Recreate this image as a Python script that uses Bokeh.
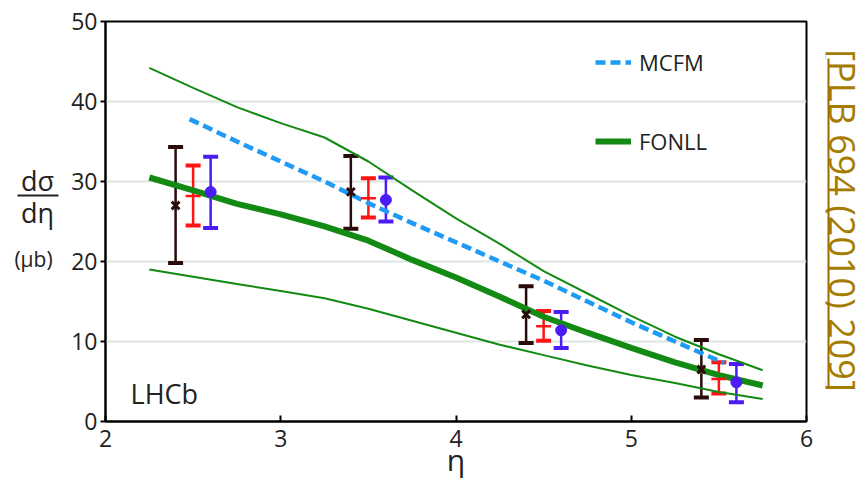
import numpy as np
from bokeh.plotting import figure
from bokeh.layouts import row
from bokeh.models import (ColumnDataSource, Whisker, TeeHead, Legend, LegendItem,
                          Label, FixedTicker, Range1d)
from bokeh.core.properties import value
from bokeh.embed import file_html
from bokeh.resources import INLINE

# ---- theory curves: d(sigma)/d(eta) in microbarn ----
eta_theory = [2.25, 2.5, 2.75, 3.0, 3.25, 3.5, 3.75, 4.0, 4.25, 4.5, 4.75, 5.0, 5.25, 5.5, 5.75]
fonll_central = [30.5, 28.9, 27.2, 25.9, 24.4, 22.6, 20.2, 18.0, 15.6, 13.1, 11.1, 9.2, 7.4, 5.8, 4.5]
fonll_upper = [44.2, 41.7, 39.3, 37.3, 35.5, 32.5, 28.9, 25.4, 22.2, 18.8, 16.0, 13.2, 10.6, 8.4, 6.4]
fonll_lower = [19.0, 18.1, 17.2, 16.3, 15.4, 14.1, 12.6, 11.1, 9.6, 8.3, 7.0, 5.8, 4.8, 3.7, 2.8]

eta_mcfm = [2.48, 2.75, 3.0, 3.25, 3.5, 3.75, 4.0, 4.25, 4.5, 4.75, 5.0, 5.25, 5.53]
mcfm = [37.8, 35.0, 32.5, 30.0, 27.3, 24.8, 22.4, 20.0, 17.6, 15.0, 12.4, 10.0, 7.3]

# ---- measurements in the four eta bins (three analyses, shifted in eta) ----
eta_bins = [2.5, 3.5, 4.5, 5.5]
shift = {"a": -0.1, "b": 0.0, "c": 0.1}

meas_a = [27.0, 28.7, 13.4, 6.5]
meas_a_hi = [34.3, 33.2, 16.9, 10.2]
meas_a_lo = [19.8, 24.1, 9.8, 3.0]

meas_b = [28.2, 27.9, 11.9, 5.3]
meas_b_hi = [32.0, 30.4, 13.8, 7.4]
meas_b_lo = [24.5, 25.5, 10.1, 3.5]

meas_c = [28.7, 27.7, 11.4, 4.9]
meas_c_hi = [33.1, 30.5, 13.7, 7.2]
meas_c_lo = [24.2, 25.0, 9.2, 2.4]

x_ticks = [2, 3, 4, 5, 6]
y_ticks = [0, 10, 20, 30, 40, 50]

FONT = "Open Sans"
INK = "#222222"
GREEN = "#138a13"
DASH_BLUE = "#1f9bf5"
C_A = "#2a0a0a"
C_B = "#ff1414"
C_C = "#4b1cf5"
CITE = "#a67c00"

H = 481
TOP, BOTTOM = 21, 60          # margins above / below the plotting frame
FRAME_H = H - TOP - BOTTOM
W_LEFT, W_RIGHT = 60, 40


def side_panel(w):
    """Bare drawing area beside the plot; y data = pixels measured up from the page bottom."""
    f = figure(width=w, height=H, frame_width=w, frame_height=FRAME_H,
               x_range=Range1d(0, w), y_range=Range1d(BOTTOM, H - TOP),
               output_backend="svg", toolbar_location=None, title=None,
               x_axis_location=None, y_axis_location=None,
               min_border=0, min_border_left=0, min_border_right=0,
               min_border_top=TOP, min_border_bottom=BOTTOM)
    f.outline_line_color = None
    f.grid.visible = False
    f.background_fill_color = "white"
    f.border_fill_color = "white"
    return f


# ---- main plot ----
p = figure(width=765, height=H, frame_width=701, frame_height=FRAME_H,
           x_range=Range1d(2, 6), y_range=Range1d(0, 50),
           output_backend="svg", toolbar_location=None, title=None,
           min_border_left=45, min_border_right=19,
           min_border_top=TOP, min_border_bottom=BOTTOM)
p.background_fill_color = "white"
p.border_fill_color = "white"
p.outline_line_color = "black"
p.outline_line_width = 2

p.xgrid.visible = False
p.ygrid.grid_line_color = "#dde5e3"
p.ygrid.grid_line_width = 2

p.xaxis.ticker = FixedTicker(ticks=x_ticks)
p.yaxis.ticker = FixedTicker(ticks=y_ticks)
for ax in (p.xaxis, p.yaxis):
    ax.axis_line_width = 2
    ax.axis_line_color = "black"
    ax.major_tick_line_color = "black"
    ax.major_tick_line_width = 2
    ax.minor_tick_line_color = None
    ax.major_label_text_font = FONT
    ax.major_label_text_font_size = "23px"
    ax.major_label_text_color = INK
p.xaxis.major_tick_in = 6
p.xaxis.major_tick_out = 0
p.xaxis.major_label_standoff = 8
p.yaxis.major_tick_in = 0
p.yaxis.major_tick_out = 5
p.yaxis.major_label_standoff = 3
p.xaxis.axis_label = "η"
p.xaxis.axis_label_text_font = FONT
p.xaxis.axis_label_text_font_style = "normal"
p.xaxis.axis_label_text_font_size = "30px"
p.xaxis.axis_label_text_color = INK
p.xaxis.axis_label_standoff = -11

# FONLL band edges and central value
p.line(eta_theory, fonll_upper, line_color=GREEN, line_width=2)
p.line(eta_theory, fonll_lower, line_color=GREEN, line_width=2)
r_fonll = p.line(eta_theory, fonll_central, line_color=GREEN, line_width=6)
# MCFM prediction
r_mcfm = p.line(eta_mcfm, mcfm, line_color=DASH_BLUE, line_width=4.5, line_dash="10 5")


def add_points(vals, hi, lo, dx, color, marker, size, lw):
    src = ColumnDataSource(dict(x=[e + dx for e in eta_bins], y=vals, hi=hi, lo=lo))
    w = Whisker(source=src, base="x", upper="hi", lower="lo",
                line_color=color, line_width=2.5,
                upper_head=TeeHead(size=15, line_width=4, line_color=color),
                lower_head=TeeHead(size=15, line_width=4, line_color=color))
    p.add_layout(w)
    p.scatter("x", "y", source=src, marker=marker, size=size,
              line_color=color, fill_color=color, line_width=lw)


add_points(meas_a, meas_a_hi, meas_a_lo, shift["a"], C_A, "x", 11, 3)
add_points(meas_b, meas_b_hi, meas_b_lo, shift["b"], C_B, "dash", 15, 2.5)
add_points(meas_c, meas_c_hi, meas_c_lo, shift["c"], C_C, "circle", 11, 1)

legend = Legend(items=[LegendItem(label="MCFM", renderers=[r_mcfm]),
                       LegendItem(label="FONLL", renderers=[r_fonll])],
                location=(490, 265))
legend.border_line_color = None
legend.background_fill_alpha = 0
legend.padding = 0
legend.margin = 0
legend.spacing = 49
legend.glyph_width = 36
legend.glyph_height = 30
legend.label_height = 30
legend.label_standoff = 8
legend.label_text_font = FONT
legend.label_text_font_size = "22px"
legend.label_text_color = INK
p.add_layout(legend)

p.add_layout(Label(x=2.143, y=3.5, text="LHCb", text_font=FONT,
                   text_font_size="27px", text_color=INK,
                   text_baseline="alphabetic"))

# ---- y-axis title drawn as a fraction ----
left = side_panel(W_LEFT)
left.text(x=[37, 37], y=[H - 180, H - 212], text=["dσ", "dη"],
          text_font=value(FONT), text_font_size="27px", text_color=INK,
          text_align="center", text_baseline="middle")
left.segment(x0=[17], y0=[H - 195], x1=[58], y1=[H - 195], line_color=INK, line_width=2)
left.text(x=[33], y=[H - 258], text=["(μb)"], text_font=value(FONT),
          text_font_size="21px", text_color=INK,
          text_align="center", text_baseline="middle")

# ---- reference citation, underlined, reading downwards ----
right = side_panel(W_RIGHT)
right.text(x=[17], y=[H - 220], text=["[PLB 694 (2010) 209]"], angle=-np.pi / 2,
           text_font=value(FONT), text_font_size="36px", text_color=CITE,
           text_align="center", text_baseline="middle")
right.segment(x0=[3], y0=[H - 58], x1=[3], y1=[H - 387], line_color="#9c6b00", line_width=2)

layout = row(left, p, right, spacing=0)
open("out.html", "w").write(file_html(layout, INLINE))
